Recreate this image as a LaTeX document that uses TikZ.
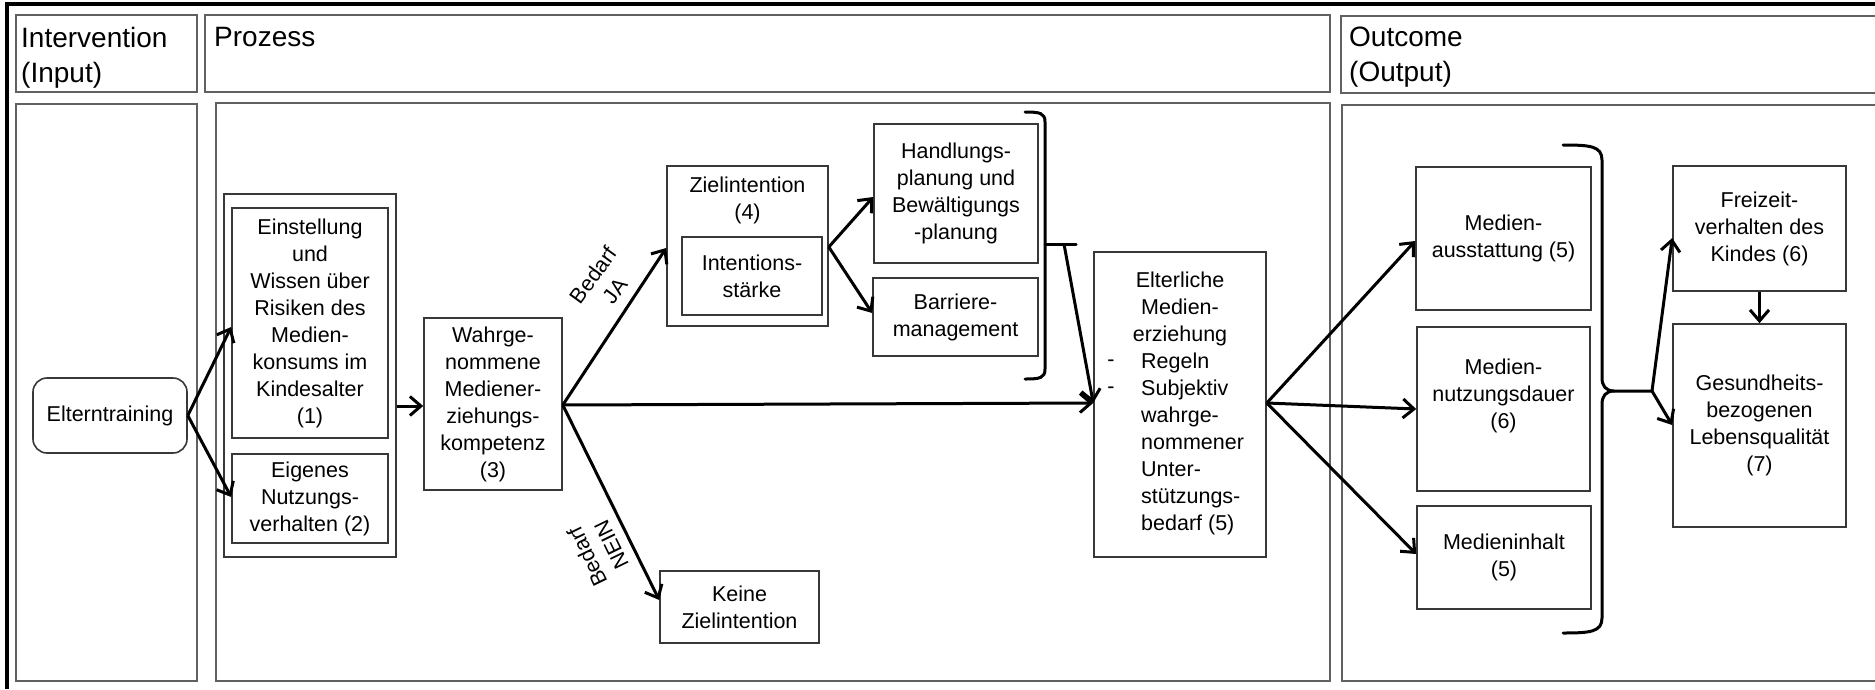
\documentclass[tikz,border=0pt]{standalone}
\usepackage{fontspec}
\setmainfont{Liberation Sans}
\usetikzlibrary{arrows.meta}
\begin{document}
\begin{tikzpicture}[x=1pt,y=-1pt,
  every node/.style={font=\fontsize{21.5}{27}\selectfont},
  bx/.style={draw=black!78, line width=1.6pt, inner sep=0pt, align=center},
  frm/.style={draw=black!62, line width=2pt},
  hlbl/.style={font=\fontsize{28}{35}\selectfont, align=left, anchor=north west, inner sep=0pt},
  txt/.style={inner sep=0pt, align=center},
  arr/.style={line width=3pt, -{Straight Barb[length=11pt,width=19pt]}},
  brk/.style={line width=3pt, line cap=round},
]
\useasboundingbox (0,0) rectangle (1875,689);
% outer frame
\draw[line width=3.5pt] (7,689) -- (7,4) -- (1876,4);
% header frames
\draw[frm] (16,15) rectangle (197,92);
\draw[frm] (205,15) rectangle (1330,92);
\draw[frm] (1880,16) -- (1341,16) -- (1341,93) -- (1880,93);
% body frames
\draw[frm] (16,104) rectangle (197,681);
\draw[frm] (216,103) rectangle (1330,681);
\draw[frm] (1880,105) -- (1342,105) -- (1342,681) -- (1880,681);
% header labels
\node[hlbl] (tI) at (21,27) {Intervention\\(Input)};
\node[hlbl] (tP) at (214,27) {Prozess};
\node[hlbl] (tO) at (1349,27) {Outcome\\(Output)};

% input
\node[bx, rounded corners=14pt, minimum width=154pt, minimum height=75pt] (elt) at (110,415.5) {Elterntraining};

% process
\node[bx, minimum width=172pt, minimum height=363pt] (grp) at (310,375.5) {};
\node[bx, minimum width=156pt, minimum height=230pt] (einst) at (310,323) {Einstellung\\und\\Wissen über\\Risiken des\\Medien-\\konsums im\\Kindesalter\\(1)};
\node[bx, minimum width=156pt, minimum height=89pt] (eig) at (310,498.5) {Eigenes\\Nutzungs-\\verhalten (2)};
\node[bx, minimum width=138pt, minimum height=172pt] (wahr) at (493,404) {Wahrge-\\nommene\\Mediener-\\ziehungs-\\kompetenz\\(3)};
\node[bx, minimum width=161pt, minimum height=160pt] (ziel) at (747.5,246) {};
\node[txt] (zielt) at (747.5,200) {Zielintention\\(4)};
\node[bx, minimum width=140pt, minimum height=78pt] (intst) at (752,276) {Intentions-\\stärke};
\node[bx, minimum width=164pt, minimum height=139pt] (hand) at (956,193.5) {Handlungs-\\planung und\\Bewältigungs\\-planung};
\node[bx, minimum width=165pt, minimum height=78pt] (barr) at (955.5,317) {Barriere-\\management};
\node[bx, minimum width=159pt, minimum height=72pt] (keine) at (739.5,607) {Keine\\Zielintention};
\node[bx, minimum width=172pt, minimum height=305pt] (ee) at (1180,404.5) {};
\node[txt] (eet) at (1180,309) {Elterliche\\Medien-\\erziehung};
\node[txt] (eed) at (1111,377) {-\\-};
\node[txt, align=left, anchor=west] (eel) at (1141,444) {Regeln\\Subjektiv\\wahrge-\\nommener\\Unter-\\stützungs-\\bedarf (5)};

% labels on branches
\node[txt, rotate=54] (ja) at (604,283) {Bedarf\\JA};
\node[txt, rotate=116] (nein) at (599,551) {Bedarf\\NEIN};

% brackets in process
\draw[brk] (1025,112) .. controls (1040,112) and (1045,113) .. (1045,122) -- (1045,369) .. controls (1045,378) and (1040,379) .. (1025,379);
\draw[brk] (1045,244) -- (1076,244);
\coordinate (b1) at (1064,244);

% outcome
\node[bx, minimum width=175pt, minimum height=143pt] (medA) at (1503.5,238.5) {Medien-\\ausstattung (5)};
\node[bx, minimum width=173pt, minimum height=164pt] (medN) at (1503.5,409) {};
\node[txt] (medNt) at (1503.5,396) {Medien-\\nutzungsdauer\\(6)};
\node[bx, minimum width=174pt, minimum height=103pt] (medI) at (1504,557.5) {Medieninhalt\\(5)};
\node[bx, minimum width=173pt, minimum height=125pt] (frei) at (1759.5,228.5) {Freizeit-\\verhalten des\\Kindes (6)};
\node[bx, minimum width=173pt, minimum height=203pt] (ges) at (1759.5,425.5) {Gesundheits-\\bezogenen\\Lebensqualität\\(7)};

\draw[brk] (1563,145) .. controls (1590,145) and (1602,146) .. (1602,160) -- (1602,378) .. controls (1602,386) and (1606,391) .. (1614,391) -- (1652,391);
\draw[brk] (1563,633) .. controls (1590,633) and (1602,632) .. (1602,618) -- (1602,404) .. controls (1602,396) and (1606,391) .. (1614,391);
\coordinate (b2) at (1652,391);

% connectors
\draw[arr] (elt.east) -- (einst.west |- 0,327);
\draw[arr] (elt.east) -- (eig.west |- 0,497);
\draw[arr] (grp.east |- 0,406) -- (wahr.west |- 0,406);
\draw[arr] (wahr.east |- 0,405) -- (ziel.west |- 0,248);
\draw[arr] (wahr.east |- 0,405) -- (keine.west |- 0,600);
\draw[arr] (wahr.east |- 0,405) -- (ee.west |- 0,403);
\draw[arr] (ziel.east |- 0,247) -- (hand.west |- 0,197);
\draw[arr] (ziel.east |- 0,247) -- (barr.west |- 0,313);
\draw[arr] (b1) -- (ee.west |- 0,403);
\draw[arr] (ee.east |- 0,403) -- (medA.west |- 0,241);
\draw[arr] (ee.east |- 0,403) -- (medN.west |- 0,409);
\draw[arr] (ee.east |- 0,403) -- (medI.west |- 0,554);
\draw[arr] (b2) -- (frei.west |- 0,238);
\draw[arr] (b2) -- (ges.west |- 0,425);
\draw[arr] (frei.south) -- (ges.north);
\end{tikzpicture}
\end{document}
